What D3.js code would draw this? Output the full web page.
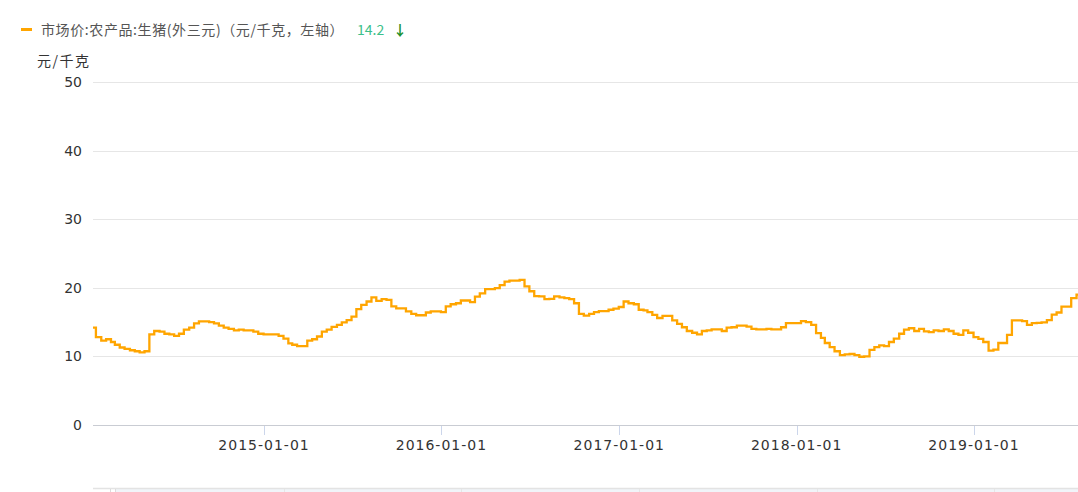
<!DOCTYPE html>
<html>
<head>
<meta charset="utf-8">
<script src="https://cdn.jsdelivr.net/npm/d3@7"></script>
<style>
  html, body { margin: 0; padding: 0; background: #fff; }
  svg { display: block; }
</style>
</head>
<body>
<svg id="chart" width="1078" height="492"></svg>
<script>
// ---- data: 旬 (ten-day) prices, 元/千克; dates are 10th, 20th, month-end ----
const seriesName = "市场价:农产品:生猪(外三元)（元/千克，左轴）";
const latestValue = "14.2";
const unitLabel = "元/千克";
const firstMonth = "2014-01";
const lastMonth = "2019-07";
const v2014 = [14.2,12.8,12.3,12.5,12.1,11.7,11.3,11.1,10.9,10.75,10.6,10.75,
               13.2,13.7,13.6,13.3,13.2,13.0,13.3,13.9,14.2,14.8,15.1,15.1,
               15.0,14.8,14.5,14.2,14.0,13.8,13.9,13.8,13.8,13.6,13.3,13.2];
const v2015 = [13.2,13.2,13.0,12.6,11.9,11.7,11.5,11.5,12.3,12.5,12.9,13.6,
               13.9,14.3,14.6,14.95,15.3,15.8,16.9,17.5,18.0,18.6,18.1,18.35,
               18.25,17.3,17.0,17.0,16.55,16.2,16.0,16.0,16.4,16.55,16.55,16.45];
const v2016 = [17.3,17.6,17.75,18.15,18.15,17.9,18.7,19.2,19.8,19.8,19.95,20.4,
               20.9,21.05,21.05,21.15,20.2,19.5,18.8,18.75,18.35,18.4,18.75,18.6,
               18.5,18.35,17.75,16.2,15.95,16.2,16.45,16.6,16.6,16.8,16.95,17.2];
const v2017 = [18.0,17.75,17.6,16.8,16.7,16.45,16.05,15.6,15.9,15.9,15.25,14.75,
               14.25,13.7,13.45,13.2,13.7,13.8,13.95,13.95,13.7,14.2,14.25,14.5,
               14.5,14.35,14.0,13.95,13.95,14.0,13.95,13.95,14.25,14.85,14.85,14.85];
const v2018 = [15.15,15.0,14.6,13.4,12.7,11.95,11.35,10.75,10.2,10.3,10.35,10.2,
               9.95,10.0,10.95,11.35,11.6,11.5,12.1,12.6,13.3,13.9,14.1,13.7,
               14.0,13.65,13.55,13.8,13.7,13.95,13.7,13.3,13.15,13.8,13.45,12.8];
const v2019 = [12.55,12.1,10.85,11.0,11.95,11.95,13.15,15.25,15.25,15.15,14.6,14.85,
               14.9,14.95,15.3,16.1,16.4,17.25,17.25,18.5,19.0];
const yTicks = [0, 10, 20, 30, 40, 50];
const xTickLabels = ["2015-01-01", "2016-01-01", "2017-01-01", "2018-01-01", "2019-01-01"];
const xDomainLabels = ["2014-01-14", "2019-08-03"];

// ---- build dated series ----
const values = [].concat(v2014, v2015, v2016, v2017, v2018, v2019);
const parse = d3.timeParse("%Y-%m-%d");
const parseM = d3.timeParse("%Y-%m");
const months = d3.timeMonth.range(parseM(firstMonth), d3.timeMonth.offset(parseM(lastMonth), 2));
const periodDates = [];
months.forEach(m => {
  periodDates.push(new Date(m.getFullYear(), m.getMonth(), 10));
  periodDates.push(new Date(m.getFullYear(), m.getMonth(), 20));
  periodDates.push(new Date(m.getFullYear(), m.getMonth() + 1, 0));
});
const data = values.map((v, i) => ({ date: periodDates[i], value: v }));
// last period holds until the next period boundary
const stepPoints = data.concat([{ date: periodDates[values.length], value: values[values.length - 1] }]);

// ---- layout ----
const svg = d3.select("#chart");
const W = 1078, H = 492;
const plot = { left: 93, right: 1078, top: 82, bottom: 425 };

const x = d3.scaleTime().domain(xDomainLabels.map(parse)).range([plot.left, plot.right]);
const y = d3.scaleLinear().domain([0, 50]).range([plot.bottom, plot.top]);

const fontNum = "'DejaVu Sans', Verdana, sans-serif";
const fontCJK = "'Noto Sans CJK SC', 'Microsoft YaHei', sans-serif";

// gridlines
svg.append("g").selectAll("line").data(yTicks.filter(t => t !== 0)).join("line")
  .attr("x1", plot.left).attr("x2", plot.right)
  .attr("y1", d => Math.round(y(d)) + 0.5).attr("y2", d => Math.round(y(d)) + 0.5)
  .attr("stroke", "#e6e6e6").attr("stroke-width", 1);

// y labels
svg.append("g").selectAll("text").data(yTicks).join("text")
  .attr("x", 82).attr("y", d => y(d)).attr("dy", "0.36em")
  .attr("text-anchor", "end")
  .attr("font-family", fontNum).attr("font-size", 14).attr("fill", "#333")
  .text(d => d);

// x axis line
svg.append("line")
  .attr("x1", plot.left).attr("x2", plot.right)
  .attr("y1", plot.bottom + 0.5).attr("y2", plot.bottom + 0.5)
  .attr("stroke", "#c9ccd3").attr("stroke-width", 1);

// x ticks + labels
const xTicks = xTickLabels.map(parse);
svg.append("g").selectAll("line").data(xTicks).join("line")
  .attr("x1", d => Math.round(x(d)) + 0.5).attr("x2", d => Math.round(x(d)) + 0.5)
  .attr("y1", plot.bottom + 1).attr("y2", plot.bottom + 10)
  .attr("stroke", "#ccd6eb").attr("stroke-width", 1);
svg.append("g").selectAll("text").data(xTicks).join("text")
  .attr("x", d => x(d)).attr("y", 450)
  .attr("text-anchor", "middle")
  .attr("font-family", fontNum).attr("font-size", 14).attr("fill", "#333")
  .attr("letter-spacing", "1px")
  .text((d, i) => xTickLabels[i]);

// series line
svg.append("defs").append("clipPath").attr("id", "clip")
  .append("rect").attr("x", plot.left).attr("y", 0)
  .attr("width", plot.right - plot.left).attr("height", H);
const line = d3.line().curve(d3.curveStepAfter)
  .x(d => x(d.date)).y(d => y(d.value));
svg.append("path").datum(stepPoints)
  .attr("clip-path", "url(#clip)")
  .attr("d", line)
  .attr("fill", "none").attr("stroke", "#FFA500").attr("stroke-width", 2.3)
  .attr("stroke-linejoin", "miter");

// legend
svg.append("line").attr("x1", 21).attr("x2", 32).attr("y1", 29.5).attr("y2", 29.5)
  .attr("stroke", "#FFA500").attr("stroke-width", 3);
svg.append("text").attr("x", 41).attr("y", 30).attr("dy", "0.35em")
  .attr("font-family", fontCJK).attr("font-size", 14).attr("fill", "#555")
  .attr("letter-spacing", "0.6px")
  .text(seriesName);
svg.append("text").attr("x", 357).attr("y", 30).attr("dy", "0.35em")
  .attr("font-family", fontCJK).attr("font-size", 14).attr("fill", "#3cbf8a")
  .text(latestValue);
svg.append("text").attr("x", 393).attr("y", 30).attr("dy", "0.35em")
  .attr("font-family", fontCJK).attr("font-size", 14).attr("fill", "#1a8f2a")
  .attr("font-weight", "bold")
  .text("↓");

// unit label
svg.append("text").attr("x", 37).attr("y", 61).attr("dy", "0.35em")
  .attr("font-family", fontCJK).attr("font-size", 14).attr("fill", "#333")
  .attr("letter-spacing", "1.5px")
  .text(unitLabel);

// navigator strip at bottom
svg.append("rect").attr("x", 115).attr("y", 489).attr("width", plot.right - 115).attr("height", 3)
  .attr("fill", "#f1f4f9");
svg.append("line").attr("x1", plot.left).attr("x2", plot.right).attr("y1", 488.5).attr("y2", 488.5)
  .attr("stroke", "#e3e3e3").attr("stroke-width", 1.5);
svg.append("g").selectAll("line").data([110, 115]).join("line")
  .attr("x1", d => d + 0.5).attr("x2", d => d + 0.5).attr("y1", 489).attr("y2", 492)
  .attr("stroke", "#dcdcdc");
svg.append("g").selectAll("line").data(xTicks).join("line")
  .attr("x1", d => Math.round(x(d)) + 20.5).attr("x2", d => Math.round(x(d)) + 20.5)
  .attr("y1", 489).attr("y2", 492)
  .attr("stroke", "#e6e6e6");
</script>
</body>
</html>
